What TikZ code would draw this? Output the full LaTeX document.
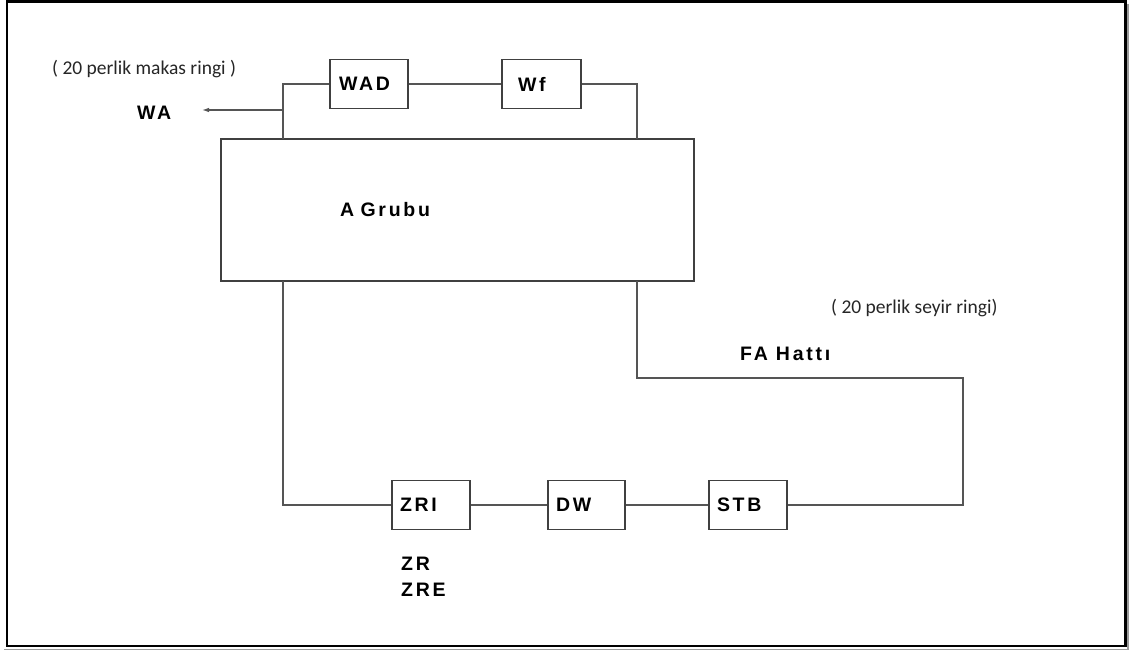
\documentclass[tikz,border=0pt]{standalone}
\usepackage{fontspec}
\setmainfont{Liberation Sans}
\newfontfamily\lblfont[LetterSpace=14]{Liberation Sans}
\newfontfamily\notefont{Carlito}
\usetikzlibrary{arrows.meta}
\definecolor{linec}{HTML}{555555}
\definecolor{boxc}{HTML}{404040}
\definecolor{shadowc}{HTML}{9A9A9A}
\begin{document}
\begin{tikzpicture}[x=1pt,y=-1pt,
  lbl/.style={font=\lblfont\bfseries\fontsize{19.5}{24}\selectfont, text=black},
  note/.style={font=\notefont\fontsize{19.5}{24}\selectfont, text=black!85},
  blk/.style={draw=boxc, line width=1.2pt, lbl, minimum height=49pt, inner ysep=0pt, align=left},
  wire/.style={draw=linec, line width=1.2pt},
  arr/.style={wire, -{Latex[length=7pt,width=4.5pt]}}
]
\useasboundingbox (0,0) rectangle (1129,650);
\fill[white] (0,0) rectangle (1129,650);
% frame
\draw[shadowc, line width=2.5pt] (1127.8,4) -- (1127.8,649.8) -- (4,649.8);
\draw[black, line width=2.5pt] (7,1.3) rectangle (1125.4,646.2);

% boxes
\node[blk, inner xsep=9pt, text width=60pt] (WAD) at (369,84) {WAD};
\node[blk, inner xsep=16pt, text width=47pt] (Wf) at (541.5,84) {Wf};
\node[blk, inner xsep=119pt, text width=235pt, minimum height=142pt] (A) at (457.5,210) {A Grubu};
\node[blk, inner xsep=8pt, text width=62pt] (ZRI) at (431,505) {ZRI};
\node[blk, inner xsep=8pt, text width=61pt] (DW) at (586.5,505) {DW};
\node[blk, inner xsep=8pt, text width=62pt] (STB) at (748,505) {STB};

% labels
\node[note, anchor=base west, inner sep=0pt] (makas) at (52,75) {( 20 perlik makas ringi )};
\node[lbl, anchor=base west, inner sep=0pt] (WA) at (137,120) {WA};
\node[note, anchor=base west, inner sep=0pt] (seyir) at (831,313) {( 20 perlik seyir ringi)};
\node[lbl, anchor=base west, inner sep=0pt] (FA) at (740,360) {FA Hattı};
\node[lbl, anchor=base west, inner sep=0pt] (ZR) at (401,570) {ZR};
\node[lbl, anchor=base west, inner sep=0pt] (ZRE) at (401,596) {ZRE};

% junction coordinates
\coordinate (tl) at (283,139);
\coordinate (tr) at (637,139);
\coordinate (wa1) at (283,110);
\coordinate (wa2) at (202,110);
\coordinate (bl) at (283,281);
\coordinate (br) at (637,281);
\coordinate (fr) at (963,378);

% connectors
\draw[wire] (WAD.west) -| (tl);
\draw[wire] (WAD.east) -- (Wf.west);
\draw[wire] (Wf.east) -| (tr);
\draw[arr] (wa1) -- (wa2);
\draw[wire] (bl) |- (ZRI.west);
\draw[wire] (ZRI.east) -- (DW.west);
\draw[wire] (DW.east) -- (STB.west);
\draw[wire] (br) |- (fr) |- (STB.east);
\end{tikzpicture}
\end{document}
